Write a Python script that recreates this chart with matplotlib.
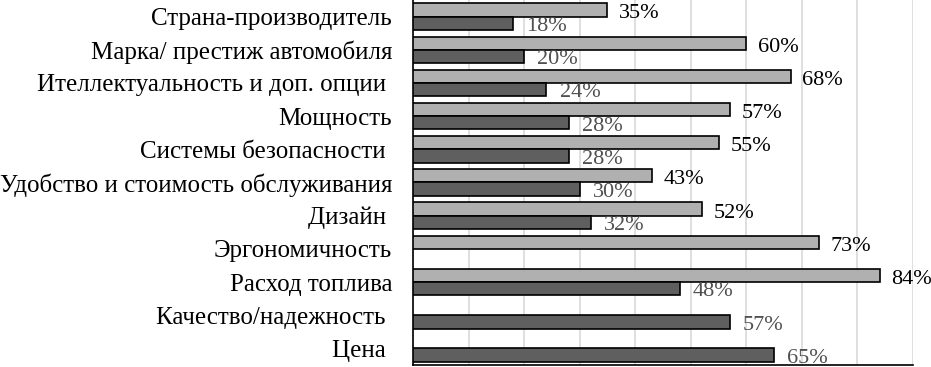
import numpy as np
import matplotlib
matplotlib.use('Agg')
import matplotlib.pyplot as plt

plt.rcParams['font.family'] = ['Liberation Serif', 'DejaVu Serif']

categories = ['Страна-производитель', 'Марка/ престиж автомобиля',
              'Ителлектуальность и доп. опции ', 'Мощность',
              'Системы безопасности ', 'Удобство и стоимость обслуживания',
              'Дизайн ', 'Эргономичность', 'Расход топлива',
              'Качество/надежность ', 'Цена ']
light = [35, 60, 68, 57, 55, 43, 52, 73, 84, None, None]
dark = [18, 20, 24, 28, 28, 30, 32, None, 48, 57, 65]

fig = plt.figure(figsize=(9.31, 3.67), dpi=100)
ax = fig.add_axes([413 / 931, 2 / 367, 500 / 931, 365 / 367])

y = np.arange(len(categories))
h = 0.4
for i in range(len(categories)):
    if light[i] is not None:
        ax.barh(y[i] - h / 2, light[i], height=h, color='#b0b0b0',
                edgecolor='black', linewidth=1.2, zorder=3)
        ax.text(light[i] + 2.1, y[i] - h / 2 + 0.12, f'{light[i]}%', va='center',
                ha='left', fontsize=16, color='black')
    if dark[i] is not None:
        ax.barh(y[i] + h / 2, dark[i], height=h, color='#5f5f5f',
                edgecolor='black', linewidth=1.2, zorder=3)
        ax.text(dark[i] + 2.4, y[i] + h / 2 + 0.1, f'{dark[i]}%', va='center',
                ha='left', fontsize=16, color='#505050')

ax.set_xlim(0, 90)
ax.set_ylim(len(categories) - 0.5, -0.5)
ax.set_xticks(np.arange(0, 91, 10))
ax.set_xticklabels([])
ax.tick_params(axis='x', length=0)
ax.tick_params(axis='y', length=0, pad=15, labelsize=18)
ax.set_yticks(y)
ax.set_yticklabels(categories)
ax.grid(axis='x', color='#d9d9d9', linewidth=1.2, zorder=0)
ax.spines['top'].set_visible(False)
ax.spines['right'].set_visible(False)
ax.spines['left'].set_color('black')
ax.spines['bottom'].set_color('black')
ax.spines['left'].set_linewidth(1.2)
ax.spines['bottom'].set_linewidth(1.2)

fig.savefig('out.png', dpi=100)
